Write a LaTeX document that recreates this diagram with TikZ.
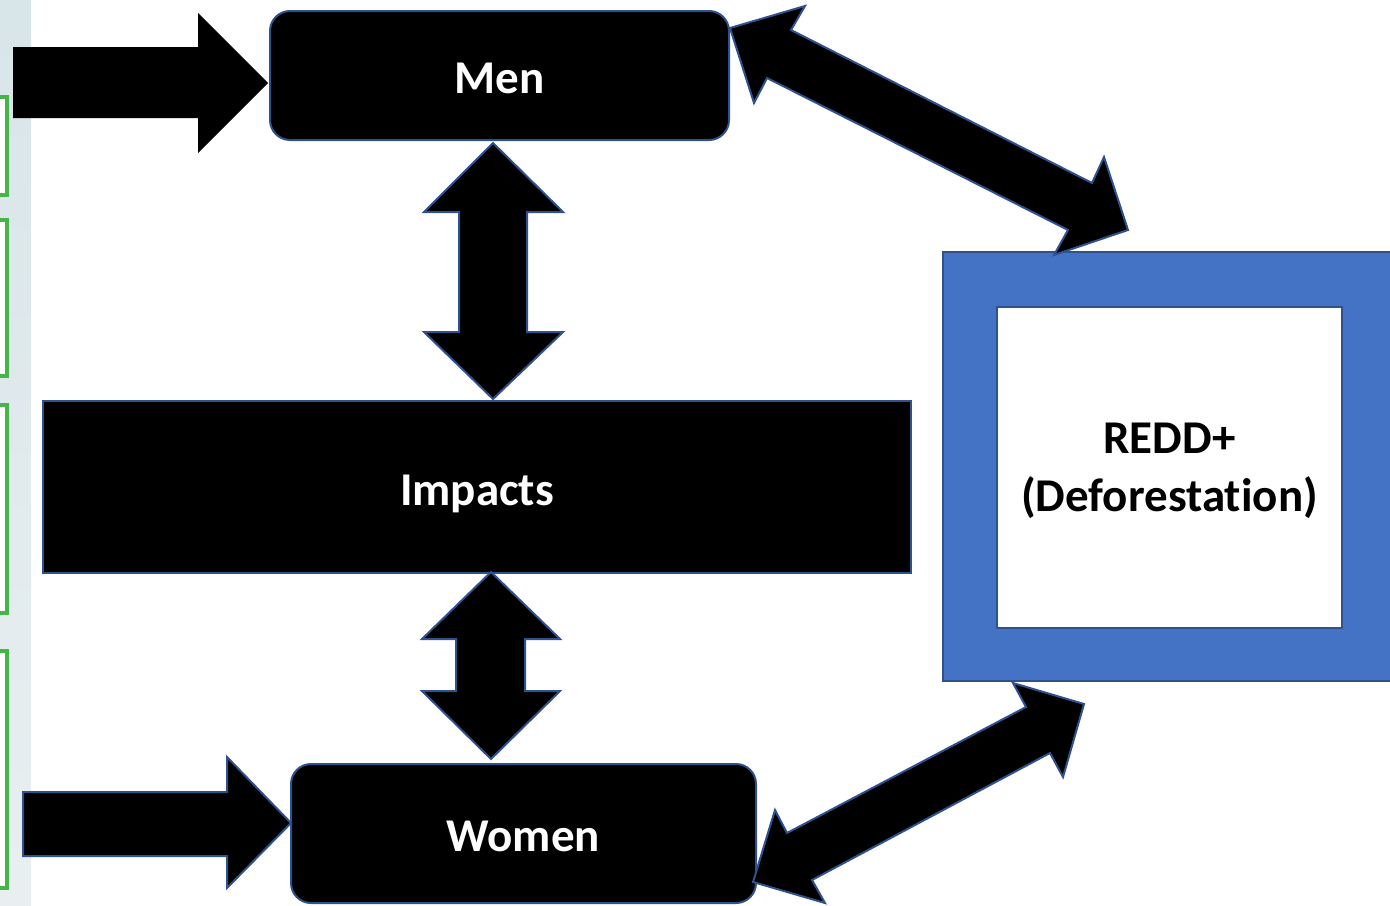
\documentclass[tikz,border=0pt]{standalone}
\usepackage{fontspec}
\setmainfont{Carlito}[Ligatures=NoCommon]
\definecolor{reddblue}{HTML}{4472C4}
\definecolor{edgeblue}{HTML}{2F528F}
\definecolor{paneltop}{HTML}{D8E5E9}
\definecolor{panelmid}{HTML}{C9DBE0}
\definecolor{panelbot}{HTML}{E9EFF1}
\definecolor{slidegreen}{HTML}{45B54A}
\begin{document}
\begin{tikzpicture}[x=0.5pt,y=-0.5pt,
    blockshape/.style={fill=black,draw=edgeblue,line width=1pt},
    boxlabel/.style={text=white,text height=18pt,text depth=0pt,font=\fontsize{23.5}{29}\selectfont\bfseries},
    slidebox/.style={draw=slidegreen,line width=2pt,fill=white}]
  \useasboundingbox (0,0) rectangle (1390,905);
  \clip (0,0) rectangle (1390,905);
  \shade[top color=paneltop,middle color=panelmid,bottom color=panelbot] (0,0) rectangle (31,905);
  \draw[slidebox] (-20,97) rectangle (7,195);
  \draw[slidebox] (-20,220) rectangle (7,376);
  \draw[slidebox] (-20,405) rectangle (7,613);
  \draw[slidebox] (-20,651) rectangle (7,888);
  \node[blockshape,rounded corners=10pt,minimum width=229.5pt,minimum height=64.5pt,boxlabel] (men) at (499.5,75.5) {Men};
  \node[blockshape,minimum width=434pt,minimum height=86pt,boxlabel] (impacts) at (477,487) {Impacts};
  \node[blockshape,rounded corners=10pt,minimum width=232.5pt,minimum height=69.5pt,boxlabel] (women) at (523.5,833.5) {Women};
  \node[draw=edgeblue,fill=reddblue,line width=1pt,minimum width=225pt,minimum height=214.5pt] (reddframe) at (1168,466.5) {};
  \node[draw=edgeblue,fill=white,line width=1pt,minimum width=172.5pt,minimum height=160.5pt,text depth=0pt,
        align=center,font=\fontsize{23.5}{29}\selectfont\bfseries] (redd) at (1169.5,467.5) {REDD+\\(Deforestat\kern0pt ion)};
  \fill (13,47) -- (198,47) -- (198,13) -- (268,83) -- (198,153) -- (198,118) -- (13,118) -- cycle;
  \draw[blockshape] (23,792) -- (227,792) -- (227,757) -- (291,823) -- (227,888) -- (227,856) -- (23,856) -- cycle;
  \draw[blockshape] (493,143) -- (563,212) -- (527,212) -- (527,332) -- (563,332) -- (493,399)
                    -- (424,332) -- (459,332) -- (459,212) -- (424,212) -- cycle;
  \draw[blockshape] (491,572) -- (560,639) -- (525,639) -- (525,691) -- (560,691) -- (491,759)
                    -- (422,691) -- (456,691) -- (456,639) -- (422,639) -- cycle;
  \draw[blockshape] (730,28) -- (805,6) -- (791,30) -- (1092,183) -- (1104,157) -- (1128,230)
                    -- (1054,255) -- (1068,230) -- (767,78) -- (754,103) -- cycle;
  \draw[blockshape] (753,882) -- (775,810) -- (787,833) -- (1026,707) -- (1013,683) -- (1084,704)
                    -- (1063,777) -- (1050,753) -- (812,880) -- (825,903) -- cycle;
\end{tikzpicture}
\end{document}
